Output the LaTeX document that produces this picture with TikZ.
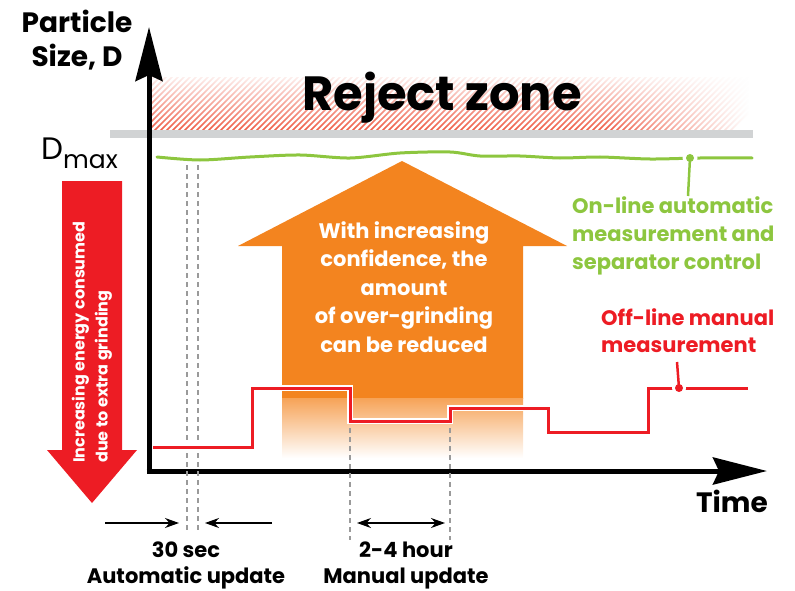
\documentclass[tikz,border=0pt]{standalone}
\usepackage{fontspec}
\setmainfont{Poppins}
\usetikzlibrary{arrows.meta,fadings}
\definecolor{gradeorange}{HTML}{F3841F}
\definecolor{onlinegreen}{HTML}{8DC63F}
\definecolor{offlinered}{HTML}{ED1C24}
\definecolor{hatchred}{HTML}{EF5B45}
\definecolor{bargray}{HTML}{D1D3D4}
\definecolor{dashgray}{HTML}{9A9A9A}
\tikzfading[name=fadetop, top color=transparent!10, bottom color=transparent!100]
\tikzfading[name=faderight, left color=transparent!100, right color=transparent!0]
\begin{document}
\begin{tikzpicture}[x=1pt, y=-1pt,
  axis/.style={line width=5pt, -{Stealth[length=54pt, width=27pt, inset=6pt]}},
  span/.style={line width=1.3pt, black},
  timeline/.style={dashgray, line width=1.3pt, dash pattern=on 5pt off 4pt},
  heading/.style={font=\fontsize{28}{34}\selectfont\bfseries, align=center, inner sep=0pt},
  caption/.style={font=\fontsize{21}{26}\selectfont\bfseries, align=center, inner sep=0pt},
  remark/.style={font=\fontsize{21}{28}\selectfont\bfseries, align=left, inner sep=0pt}
]
\useasboundingbox (0,0) rectangle (795,591);

% reject zone
\begin{scope}
  \clip (149,78) rectangle (748,131);
  \foreach \i in {0,...,105}
    \draw[hatchred, line width=1.6pt] (100+6*\i,131) -- ++(55,-55);
\end{scope}
\fill[white, path fading=fadetop] (149,77) rectangle (760,131);
\fill[white, path fading=faderight] (610,77) rectangle (749,131);
\fill[bargray] (110,130) rectangle (753,138);
\node[font=\fontsize{48}{48}\selectfont\bfseries, inner sep=0pt] (reject) at (442,98) {Reject zone};

% axes
\coordinate (origin) at (149,471);
\coordinate (ytip) at (149,27);
\coordinate (xtip) at (767,471);
\draw[axis] (149,473.5) -- (ytip);
\draw[axis] (146.5,471) -- (xtip);
\node[heading] (ylabel) at (77,40) {Particle\\Size, D};
\node[heading, anchor=north east] (xlabel) at (768,490) {Time};
\node[inner sep=0pt, anchor=west] (dmax) at (41,153) {\fontsize{31}{31}\selectfont D\raisebox{-9pt}{\fontsize{25}{25}\selectfont max}};

% energy arrow
\fill[offlinered] (62,181) -- (122,181) -- (122,450) -- (137,450) -- (92,503) -- (47,450) -- (62,450) -- cycle;
\node[font=\fontsize{16}{23}\selectfont\bfseries, text=white, align=left, rotate=90, anchor=west, inner sep=0pt] (energy) at (92,463) {Increasing energy consumed\\due to extra grinding};

% confidence arrow
\fill[gradeorange] (282,399) -- (282,246) -- (238,246) -- (402,161) -- (567,246) -- (523,246) -- (523,399) -- cycle;
\shade[top color=gradeorange!75!white, bottom color=white] (282,398) rectangle (523,458);
\node[caption, text=white, font=\fontsize{21}{28.5}\selectfont\bfseries] (confidence) at (404,287) {With increasing\\confidence, the\\amount\\of over-grinding\\can be reduced};

% update intervals
\foreach \x/\top/\bot in {187/165/530, 198/165/530, 350/428/540, 450/428/540}
  \draw[timeline] (\x,\top) -- (\x,\bot);

% on-line measurement
\draw[onlinegreen, line width=3pt, line cap=round] plot[smooth] coordinates {(157,157) (200,160) (250,157) (300,155) (350,158) (400,153) (450,152) (480,156) (520,156) (560,158) (600,157) (650,159) (700,158) (752,158)};
\fill[white] (690,158) circle (7.5);
\fill[onlinegreen] (690,158) circle (4);
\draw[onlinegreen, line width=2.5pt] (690,158) -- (688,196);
\node[remark, text=onlinegreen, anchor=west] (online) at (572,236) {On-line automatic\\measurement and\\separator control};

% off-line measurement
\draw[white, line width=6pt] (153,447) -- (252,447) -- (252,388) -- (350,388) -- (350,421) -- (450,421) -- (450,408) -- (548,408) -- (548,432) -- (648,432) -- (648,388) -- (748,388);
\draw[offlinered, line width=3pt] (153,447) -- (252,447) -- (252,388) -- (350,388) -- (350,421) -- (450,421) -- (450,408) -- (548,408) -- (548,432) -- (648,432) -- (648,388) -- (748,388);
\fill[white] (679,388) circle (7);
\fill[offlinered] (679,388) circle (4);
\draw[offlinered, line width=2.5pt] (679,388) -- (677,362);
\node[remark, text=offlinered, anchor=west, font=\fontsize{21}{27}\selectfont\bfseries] (offline) at (601,331) {Off-line manual\\measurement};

% interval arrows
\coordinate (autoL) at (105,523);
\coordinate (autoR) at (272,523);
\draw[span, -{Stealth[length=14pt, width=10pt]}] (autoL) -- (179,523);
\draw[span, -{Stealth[length=14pt, width=10pt]}] (autoR) -- (205,523);
\draw[span, {Stealth[length=14pt, width=10pt]}-{Stealth[length=14pt, width=10pt]}] (357,523) -- (445,523);
\node[caption] (auto) at (186,565) {30 sec\\Automatic update};
\node[caption] (manual) at (406,565) {2-4 hour\\Manual update};
\end{tikzpicture}
\end{document}
